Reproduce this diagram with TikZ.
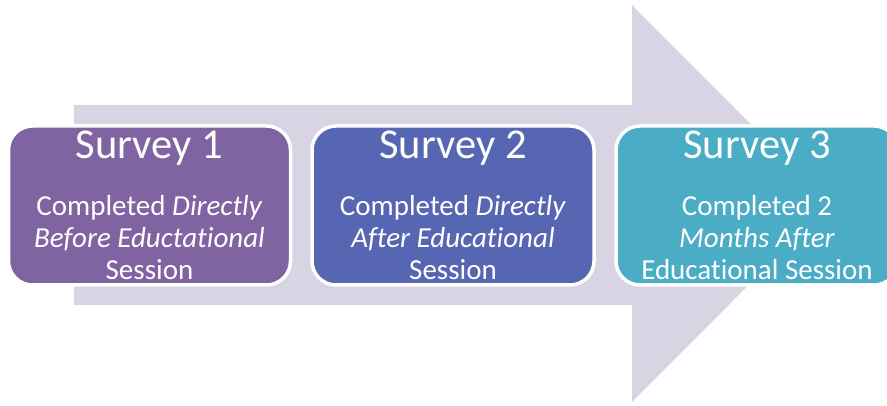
\documentclass[tikz,border=0pt]{standalone}
\usepackage{fontspec}
\setmainfont{Carlito}[Ligatures={NoCommon}]
\definecolor{arrowlilac}{HTML}{D8D4E4}
\definecolor{surveypurple}{HTML}{8064A2}
\definecolor{surveyblue}{HTML}{5666B2}
\definecolor{surveyteal}{HTML}{4BACC6}
\begin{document}
\begin{tikzpicture}[x=1pt, y=-1pt,
  survey/.style={draw=white, line width=3.5pt, rounded corners=24pt, minimum width=282pt, minimum height=159pt},
  title/.style={text=white, inner sep=0pt, font=\fontsize{42.5}{46}\selectfont},
  body/.style={text=white, inner sep=0pt, align=center, font=\fontsize{29}{32}\selectfont}]
\useasboundingbox (0,0) rectangle (887,406);
\fill[arrowlilac] (74,105) -- (632,105) -- (632,5) -- (830,203.5) -- (632,402) -- (632,305) -- (74,305) -- cycle;
\node[survey, fill=surveypurple] (s1) at (149.5,205.5) {};
\node[survey, fill=surveyblue] (s2) at (453,205.5) {};
\node[survey, fill=surveyteal] (s3) at (757,205.5) {};
\node[title] (t1) at (s1.center |- 0,148) {Survey 1};
\node[title] (t2) at (s2.center |- 0,148) {Survey 2};
\node[title] (t3) at (s3.center |- 0,148) {Survey 3};
\node[body] (b1) at (s1.center |- 0,237.5) {Completed \textit{Directly}\\\textit{Before Eductational}\\Session};
\node[body] (b2) at (s2.center |- 0,237.5) {Completed \textit{Directly}\\\textit{After Educational}\\Session};
\node[body] (b3) at (s3.center |- 0,237.5) {Completed 2\\\textit{Months After}\\Educational Session};
\end{tikzpicture}
\end{document}
